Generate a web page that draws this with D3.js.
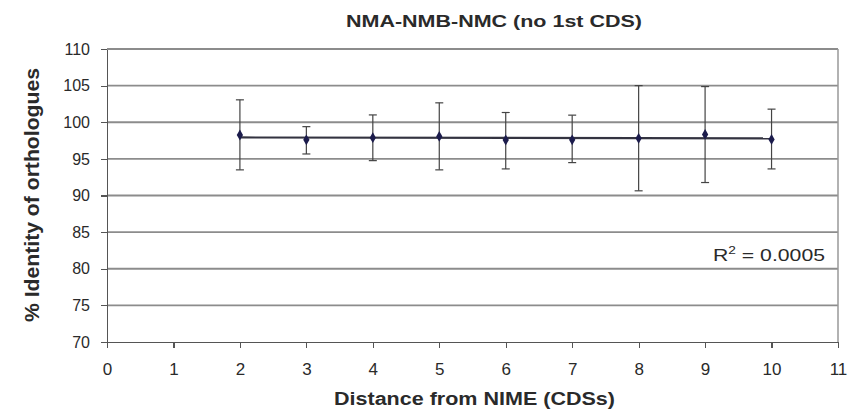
<!DOCTYPE html>
<meta charset="utf-8">
<script src="https://cdn.jsdelivr.net/npm/d3@7"></script>
<style>
    body { margin: 0; background: #fff; }
    text { font-family: "Liberation Sans", Arial, sans-serif; fill: #2a2a2a; }
    .axis path, .axis line { stroke: #555; stroke-width: 1.2; shape-rendering: crispEdges; }
    .grid line { stroke: #8c8c8c; stroke-width: 1.8; }
</style>
<body>
<script>

    // distance from NIME (CDSs)
    var distance = [2, 3, 4, 5, 6, 7, 8, 9, 10]
    // mean % identity and error bar ends
    var identity = [98.26, 97.6, 97.9, 98.07, 97.57, 97.6, 97.8, 98.34, 97.66]
    var errUpper = [103.06, 99.4, 101.0, 102.65, 101.33, 100.97, 105.0, 104.87, 101.79]
    var errLower = [93.5, 95.67, 94.76, 93.5, 93.63, 94.49, 90.64, 91.77, 93.63]
    var xTicks = [0, 1, 2, 3, 4, 5, 6, 7, 8, 9, 10, 11]
    var yTicks = [70, 75, 80, 85, 90, 95, 100, 105, 110]

    var W = 851, H = 413
    var m = {top: 49, right: 13, bottom: 71, left: 107}
    var w = W - m.left - m.right
    var h = H - m.top - m.bottom

    var data = distance.map((d, i) => ({x: d, y: identity[i], hi: errUpper[i], lo: errLower[i]}))

    var x = d3.scaleLinear().domain([0, 11]).range([0, w])
    var y = d3.scaleLinear().domain([70, 110]).range([h, 0])

    var svg = d3.select("body").append("svg").attr("width", W).attr("height", H)
    var g = svg.append("g").attr("transform", "translate(" + m.left + "," + m.top + ")")

    // gridlines
    g.append("g").attr("class", "grid").selectAll("line").data(yTicks.slice(1)).enter().append("line")
        .attr("x1", 0).attr("x2", w).attr("y1", d => y(d)).attr("y2", d => y(d))
    // right border of plot area
    g.append("line").attr("x1", w).attr("x2", w).attr("y1", 0).attr("y2", h)
        .style("stroke", "#999").style("stroke-width", 1.5)

    var xAxis = g.append("g").attr("class", "axis").attr("transform", "translate(0," + h + ")")
        .call(d3.axisBottom(x).tickValues(xTicks).tickSize(6).tickPadding(15).tickSizeOuter(0).tickFormat(d3.format("d")))
    xAxis.selectAll("text").style("font-size", "17px")
    var yAxis = g.append("g").attr("class", "axis")
        .call(d3.axisLeft(y).tickValues(yTicks).tickSize(6).tickPadding(11).tickSizeOuter(0))
    yAxis.selectAll("text").style("font-size", "16px")

    // linear trend line
    var mx = d3.mean(data, d => d.x), my = d3.mean(data, d => d.y)
    var slope = d3.sum(data, d => (d.x - mx) * (d.y - my)) / d3.sum(data, d => (d.x - mx) * (d.x - mx))
    var icpt = my - slope * mx
    var xs = d3.extent(distance)
    g.append("line")
        .attr("x1", x(xs[0])).attr("y1", y(icpt + slope * xs[0]))
        .attr("x2", x(xs[1])).attr("y2", y(icpt + slope * xs[1]))
        .style("stroke", "#333340").style("stroke-width", 2.2)

    // error bars
    var eb = g.append("g").selectAll("g").data(data).enter().append("g").style("stroke", "#444").style("stroke-width", 1.2)
    eb.append("line").attr("x1", d => x(d.x)).attr("x2", d => x(d.x)).attr("y1", d => y(d.hi)).attr("y2", d => y(d.lo))
    eb.append("line").attr("x1", d => x(d.x) - 4).attr("x2", d => x(d.x) + 4).attr("y1", d => y(d.hi)).attr("y2", d => y(d.hi))
    eb.append("line").attr("x1", d => x(d.x) - 4).attr("x2", d => x(d.x) + 4).attr("y1", d => y(d.lo)).attr("y2", d => y(d.lo))

    // markers
    g.append("g").selectAll("path").data(data).enter().append("path")
        .attr("d", d3.symbol().type(d3.symbolDiamond).size(34))
        .attr("transform", d => "translate(" + x(d.x) + "," + y(d.y) + ")")
        .style("fill", "#1c1c4c")

    // R squared label
    var rl = svg.append("text").attr("x", 713).attr("y", 261).style("font-size", "17px")
        .attr("textLength", 112).attr("lengthAdjust", "spacingAndGlyphs")
    rl.append("tspan").text("R")
    rl.append("tspan").attr("dy", -7).style("font-size", "11px").text("2")
    rl.append("tspan").attr("dy", 7).text(" = 0.0005")

    // titles
    svg.append("text").attr("x", 346).attr("y", 27)
        .attr("textLength", 296).attr("lengthAdjust", "spacingAndGlyphs")
        .style("font-size", "16px").style("font-weight", "bold").text("NMA-NMB-NMC (no 1st CDS)")
    svg.append("text").attr("x", 334).attr("y", 405)
        .attr("textLength", 281).attr("lengthAdjust", "spacingAndGlyphs")
        .style("font-size", "18px").style("font-weight", "bold").text("Distance from NIME (CDSs)")
    svg.append("text").attr("transform", "translate(39,322) rotate(-90)")
        .attr("textLength", 254).attr("lengthAdjust", "spacingAndGlyphs")
        .style("font-size", "20px").style("font-weight", "bold").text("% Identity of orthologues")

</script>
</body>
</html>
